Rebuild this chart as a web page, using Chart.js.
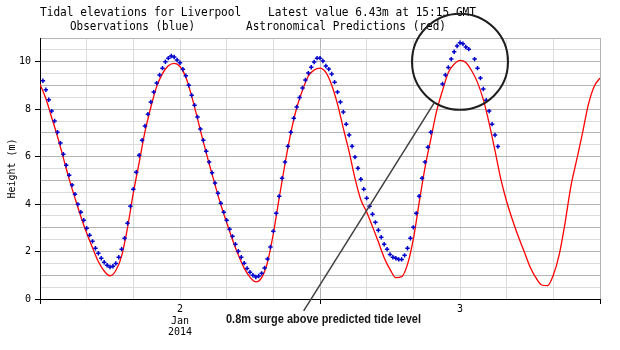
<!DOCTYPE html>
<html>
<head>
<meta charset="utf-8">
<script src="https://cdn.jsdelivr.net/npm/chart.js@4.4.1/dist/chart.umd.min.js"></script>
<style>
    html, body { margin: 0; padding: 0; background: #fff; }
    canvas { display: block; }
</style>
</head>
<body>
<canvas id="tideChart" width="620" height="350"></canvas>
<script>
// hours counted from 00:00 GMT on 2 Jan 2014
const obsFirstHour = 0.25;
const obsStepHours = 0.25;
const predStepHours = 0.5;

// observed heights (m), every 15 minutes, null = missing
const obsHeights = [
    9.20, 8.82, 8.40, 7.92, 7.50, 7.03, 6.57, 6.10, 5.64, 5.22,
    4.80, 4.42, 3.99, 3.66, 3.32, 2.98, 2.69, 2.43, 2.14, 1.93,
    1.72, 1.55, 1.42, 1.35, 1.38, 1.50, 1.76, 2.10, 2.56, 3.19,
    3.91, 4.63, 5.34, 6.06, 6.69, 7.29, 7.79, 8.30, 8.72, 9.10,
    9.44, 9.73, 10.00, 10.15, 10.24, 10.20, 10.07, 9.96, 9.68, 9.41,
    9.01, 8.59, 8.17, 7.67, 7.16, 6.69, 6.23, 5.77, 5.32, 4.89,
    4.46, 4.04, 3.66, 3.32, 2.94, 2.64, 2.31, 2.01, 1.76, 1.51,
    1.29, 1.13, 1.00, 0.93, 0.97, 1.08, 1.31, 1.69, 2.19, 2.86,
    3.61, 4.33, 5.09, 5.77, 6.44, 7.03, 7.62, 8.09, 8.49, 8.89,
    9.23, 9.52, 9.77, 9.99, 10.15, 10.15, 10.03, 9.82, 9.69, 9.48,
    9.14, 8.72, 8.30, 7.88, 7.37, 6.91, 6.44, 5.98, 5.51, 5.05,
    4.63, 4.25, 3.91, 3.57, 3.23, 2.90, 2.60, 2.31, 2.10, 1.88,
    1.76, 1.72, 1.67, 1.67, 1.84, 2.14, 2.56, 3.02, 3.61, 4.33,
    5.09, 5.77, 6.40, 7.03, null, null, null, 9.06, 9.44, 9.76,
    10.11, 10.42, 10.66, 10.80, 10.76, 10.62, 10.53, null, 10.11, 9.73,
    9.31, 8.85, 8.38, 7.92, 7.37, 6.91, 6.43
];

// astronomical predictions (m), every 30 minutes from 00:00
const predHeights = [
    9.05, 8.45, 7.65, 6.85, 5.95, 5.05, 4.25, 3.48, 2.78, 2.16,
    1.58, 1.18, 0.98, 1.20, 1.82, 3.00, 4.47, 5.75, 7.05, 8.08,
    8.95, 9.50, 9.83, 9.93, 9.80, 9.35, 8.55, 7.60, 6.62, 5.70,
    4.82, 3.97, 3.22, 2.50, 1.85, 1.30, 0.92, 0.72, 0.90, 1.55,
    2.75, 4.25, 5.70, 7.00, 8.05, 8.80, 9.40, 9.65, 9.73, 9.55,
    9.02, 8.21, 7.19, 6.20, 5.08, 4.18, 3.67, 3.05, 2.41, 1.74,
    1.25, 0.90, 0.94, 1.46, 2.52, 4.06, 5.54, 6.74, 7.93, 8.78,
    9.55, 9.90, 10.06, 9.97, 9.62, 9.13, 8.40, 7.40, 6.25, 5.05,
    4.11, 3.33, 2.63, 2.00, 1.36, 0.90, 0.59, 0.56, 1.01, 1.86,
    3.19, 4.74, 5.86, 6.99, 8.19, 8.96, 9.31
];

const dayLabelHours = [12, 36];
const dayLabels = [['2', 'Jan', '2014'], '3'];
const heightLabels = [0, 2, 4, 6, 8, 10];

// annotation
const surgeHour = 36;
const surgeLevel = 10;
const surgeLineEndHour = 22.6;
const surgeLineEndLevel = -0.5;
const surgeText = '0.8m surge above predicted tide level';

const obsPoints = obsHeights.map((v, i) => ({ x: obsFirstHour + i * obsStepHours, y: v }));
const predPoints = predHeights.map((v, i) => ({ x: i * predStepHours, y: v }));

function lastObs() {
    for (let i = obsHeights.length - 1; i >= 0; i--) {
        if (obsHeights[i] !== null) {
            const h = (obsFirstHour + i * obsStepHours) % 24;
            const hh = String(Math.floor(h)).padStart(2, '0');
            const mm = String(Math.round((h % 1) * 60)).padStart(2, '0');
            return { value: obsHeights[i], time: hh + ':' + mm };
        }
    }
}

function drawFitted(ctx, text, x, y, width, font) {
    ctx.font = font;
    const w = ctx.measureText(text).width;
    ctx.save();
    ctx.translate(x, y);
    ctx.scale(width / w, 1);
    ctx.fillText(text, 0, 0);
    ctx.restore();
}

const decorPlugin = {
    id: 'decor',
    beforeDraw(chart) {
        const ctx = chart.ctx;
        ctx.save();
        ctx.fillStyle = '#fff';
        ctx.fillRect(0, 0, chart.width, chart.height);
        ctx.restore();
    },
    afterDraw(chart) {
        const ctx = chart.ctx;
        const xs = chart.scales.x;
        const ys = chart.scales.y;
        const latest = lastObs();
        const mono = '13px "DejaVu Sans Mono"';

        ctx.save();
        ctx.fillStyle = '#000';
        ctx.textBaseline = 'alphabetic';
        drawFitted(ctx, 'Tidal elevations for Liverpool    Latest value ' + latest.value.toFixed(2) + 'm at ' + latest.time + ' GMT', 40, 16, 436, mono);
        drawFitted(ctx, 'Observations (blue)', 70, 30, 125, mono);
        drawFitted(ctx, 'Astronomical Predictions (red)', 246, 30, 200, mono);

        // circle round the surge peak and pointer line
        const cx = xs.getPixelForValue(surgeHour);
        const cy = ys.getPixelForValue(surgeLevel);
        const r = 48;
        ctx.strokeStyle = '#1e1e1e';
        ctx.lineWidth = 2;
        ctx.beginPath();
        ctx.arc(cx, cy, r, 0, Math.PI * 2);
        ctx.stroke();

        const ex = xs.getPixelForValue(surgeLineEndHour);
        const ey = ys.getPixelForValue(surgeLineEndLevel);
        const d = Math.hypot(ex - cx, ey - cy);
        ctx.strokeStyle = '#404040';
        ctx.lineWidth = 1.5;
        ctx.beginPath();
        ctx.moveTo(cx + (ex - cx) / d * r, cy + (ey - cy) / d * r);
        ctx.lineTo(ex, ey);
        ctx.stroke();

        ctx.fillStyle = '#151515';
        ctx.textAlign = 'left';
        drawFitted(ctx, surgeText, 226, 322.5, 195, 'bold 13px "Liberation Sans"');
        ctx.restore();
    }
};

const ctx = document.getElementById('tideChart');

new Chart(ctx, {
    type: 'line',
    data: {
        datasets: [
            {
                label: 'Observations',
                data: obsPoints,
                showLine: false,
                pointStyle: 'cross',
                pointRadius: 2.2,
                pointBorderWidth: 1.5,
                pointBorderColor: '#0000cc',
                pointBackgroundColor: '#0000cc',
                borderColor: '#0000cc',
            },
            {
                label: 'Predictions',
                data: predPoints,
                borderColor: '#ff0000',
                borderWidth: 1.3,
                pointRadius: 0,
                cubicInterpolationMode: 'monotone',
                fill: false,
            },
        ],
    },
    options: {
        responsive: false,
        animation: false,
        devicePixelRatio: 1,
        layout: {
            padding: { top: 38, right: 20, left: 0, bottom: 0 },
        },
        plugins: {
            legend: { display: false },
            tooltip: { enabled: false },
        },
        scales: {
            x: {
                type: 'linear',
                min: 0,
                max: 48,
                afterFit(scale) { scale.height = 51; },
                ticks: {
                    stepSize: 4,
                    autoSkip: false,
                    maxRotation: 0,
                    padding: 0,
                    color: '#000',
                    font: { family: 'DejaVu Sans Mono', size: 10, lineHeight: 1.15 },
                    callback(value) {
                        const k = dayLabelHours.indexOf(value);
                        return k >= 0 ? dayLabels[k] : '';
                    },
                },
                grid: {
                    color: c => (c.tick && c.tick.value % 24 === 0) ? '#b4b4b4' : '#dcdcdc',
                    tickColor: c => (c.tick && c.tick.value % 24 === 0) ? '#000' : 'rgba(0,0,0,0)',
                    tickLength: 5,
                    lineWidth: 1,
                },
                border: { display: true, color: '#000', width: 1 },
            },
            y: {
                min: 0,
                max: 11,
                afterFit(scale) { scale.width = 40; },
                ticks: {
                    stepSize: 0.5,
                    autoSkip: false,
                    padding: 4,
                    color: '#000',
                    font: { family: 'DejaVu Sans Mono', size: 10 },
                    callback(value) {
                        return heightLabels.includes(value) ? String(value) : '';
                    },
                },
                grid: {
                    color: c => (c.tick && Number.isInteger(c.tick.value)) ? '#b4b4b4' : '#dcdcdc',
                    tickColor: c => (c.tick && heightLabels.includes(c.tick.value)) ? '#000' : 'rgba(0,0,0,0)',
                    tickLength: 5,
                },
                border: { display: true, color: '#000', width: 1 },
                title: {
                    display: true,
                    text: 'Height (m)',
                    color: '#000',
                    font: { family: 'DejaVu Sans Mono', size: 10 },
                    padding: { top: 6, bottom: 0 },
                },
            },
        },
    },
    plugins: [decorPlugin],
});
</script>
</body>
</html>
